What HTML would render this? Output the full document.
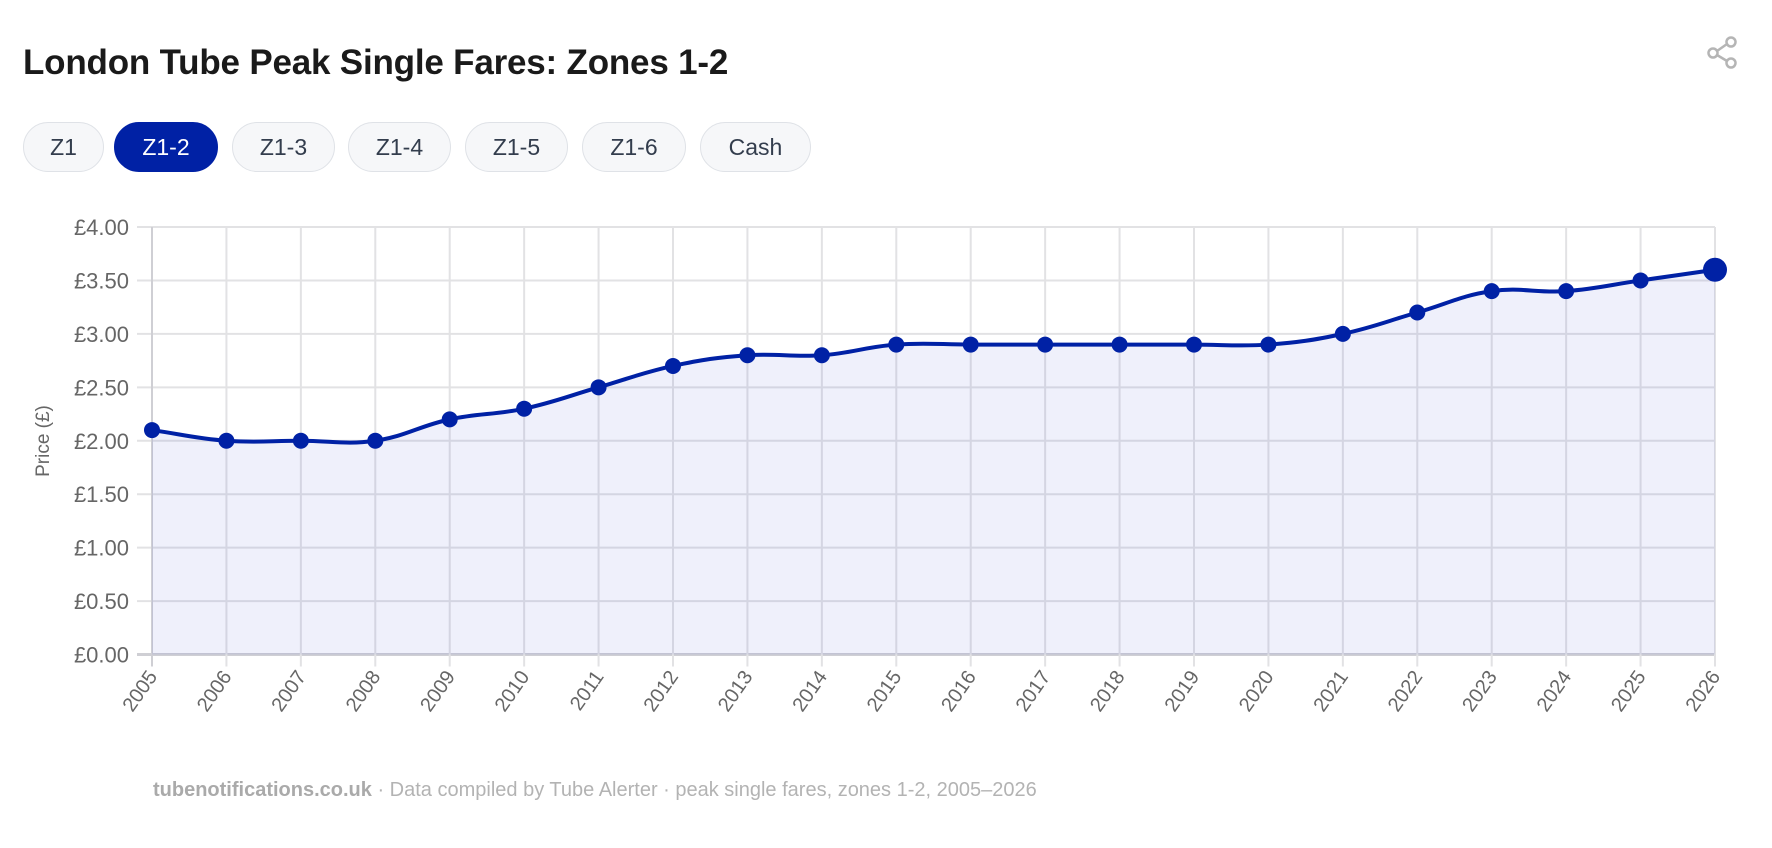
<!DOCTYPE html>
<html><head><meta charset="utf-8"><style>
body{margin:0;background:#fff;width:1772px;height:848px;overflow:hidden;font-family:"Liberation Sans",sans-serif;position:relative}
h1{position:absolute;left:23px;top:43px;margin:0;font-size:35px;font-weight:bold;color:#1a1a1a;letter-spacing:-0.2px}
.btn{position:absolute;top:122px;height:50px;border:1px solid #dfe2e7;background:#f6f7f9;border-radius:26px;font-size:23px;color:#333d4d;display:flex;align-items:center;justify-content:center;box-sizing:border-box}
.btn.on{background:#0021a5;color:#fff;border-color:#0021a5}
.foot{position:absolute;left:153px;top:779px;font-size:20px;color:#b3b3b3}
</style></head><body>
<h1>London Tube Peak Single Fares: Zones 1-2</h1>
<div class="btn" style="left:23px;width:81px">Z1</div>
<div class="btn on" style="left:114px;width:104px">Z1-2</div>
<div class="btn" style="left:232px;width:103px">Z1-3</div>
<div class="btn" style="left:348px;width:103px">Z1-4</div>
<div class="btn" style="left:465px;width:103px">Z1-5</div>
<div class="btn" style="left:582px;width:104px">Z1-6</div>
<div class="btn" style="left:700px;width:111px">Cash</div>
<svg style="position:absolute;left:1704px;top:34px" width="36" height="36" viewBox="0 0 36 36">
<g fill="none" stroke="#b5b5b5" stroke-width="2.5"><circle cx="27" cy="8" r="4.5"/><circle cx="9" cy="19" r="4.5"/><circle cx="27" cy="29" r="4.5"/><line x1="13" y1="17" x2="23" y2="10"/><line x1="13" y1="21" x2="23" y2="27"/></g></svg>
<svg id="chart" style="position:absolute;left:0;top:0" width="1772" height="760"></svg>
<div class="foot"><b style="color:#aaa">tubenotifications.co.uk</b> · Data compiled by Tube Alerter · peak single fares, zones 1-2, 2005–2026</div>
<script>
const years=["2005","2006","2007","2008","2009","2010","2011","2012","2013","2014","2015","2016","2017","2018","2019","2020","2021","2022","2023","2024","2025","2026"];
const fares=[2.10,2.00,2.00,2.00,2.20,2.30,2.50,2.70,2.80,2.80,2.90,2.90,2.90,2.90,2.90,2.90,3.00,3.20,3.40,3.40,3.50,3.60];
const yTicks=[0,0.5,1,1.5,2,2.5,3,3.5,4];
const NS="http://www.w3.org/2000/svg";
const svg=document.getElementById('chart');
const L=152,R=1715,T=227,B=654.5,YMAX=4;
const xs=i=>L+(R-L)*i/(years.length-1);
const ys=v=>B-(B-T)*v/YMAX;
function mk(t,a){const e=document.createElementNS(NS,t);for(const k in a)e.setAttribute(k,a[k]);svg.appendChild(e);return e;}
yTicks.forEach(v=>{
 const g=mk('line',{x1:137,x2:R,y1:ys(v),y2:ys(v),stroke:v===0?'#cfcfd4':'#e2e2e4','stroke-width':v===0?3:2});
 
 
 const t=mk('text',{x:129,y:ys(v)+8,'text-anchor':'end','font-size':22,fill:'#666','font-family':'Liberation Sans, sans-serif'});
 t.textContent='£'+v.toFixed(2);
 
 
});
years.forEach((y,i)=>{
 const x=xs(i);
 const g=mk('line',{x1:x,x2:x,y1:T,y2:B+12,stroke:i===0?'#cfcfd4':'#e2e2e4','stroke-width':2});
 
 
 const t=mk('text',{x:x+6,y:B+22,'text-anchor':'end','font-size':20,fill:'#666','font-family':'Liberation Sans, sans-serif',transform:`rotate(-55 ${x+6} ${B+22})`});
 t.textContent=y;
 
 
});
const yt=mk('text',{x:49,y:441,'text-anchor':'middle','font-size':19,fill:'#666','font-family':'Liberation Sans, sans-serif',transform:'rotate(-90 49 441)'});
yt.textContent='Price (£)';


const pts=fares.map((v,i)=>[xs(i),ys(v)]);
const cps=pts.map((p,i)=>{
 const prev=pts[Math.max(0,i-1)],next=pts[Math.min(pts.length-1,i+1)],t=0.4;
 const d01=Math.hypot(p[0]-prev[0],p[1]-prev[1]),d12=Math.hypot(next[0]-p[0],next[1]-p[1]);
 let s01=d01/(d01+d12)||0,s12=d12/(d01+d12)||0;const fa=t*s01,fb=t*s12;
 return {p:[p[0]-fa*(next[0]-prev[0]),p[1]-fa*(next[1]-prev[1])],n:[p[0]+fb*(next[0]-prev[0]),p[1]+fb*(next[1]-prev[1])]};
});
let d=`M${pts[0][0]},${pts[0][1]}`;
for(let i=1;i<pts.length;i++){d+=` C${cps[i-1].n[0]},${cps[i-1].n[1]} ${cps[i].p[0]},${cps[i].p[1]} ${pts[i][0]},${pts[i][1]}`;}
const area=mk('path',{d:d+` L${R},${B} L${L},${B} Z`,fill:'rgba(40,50,200,0.075)'});


const line=mk('path',{d:d,fill:'none',stroke:'#0021a5','stroke-width':4});


pts.forEach((p,i)=>{
 const c=mk('circle',{cx:p[0],cy:p[1],r:i===pts.length-1?12:8,fill:'#0021a5'});
 
 
});
</script>
</body></html>
